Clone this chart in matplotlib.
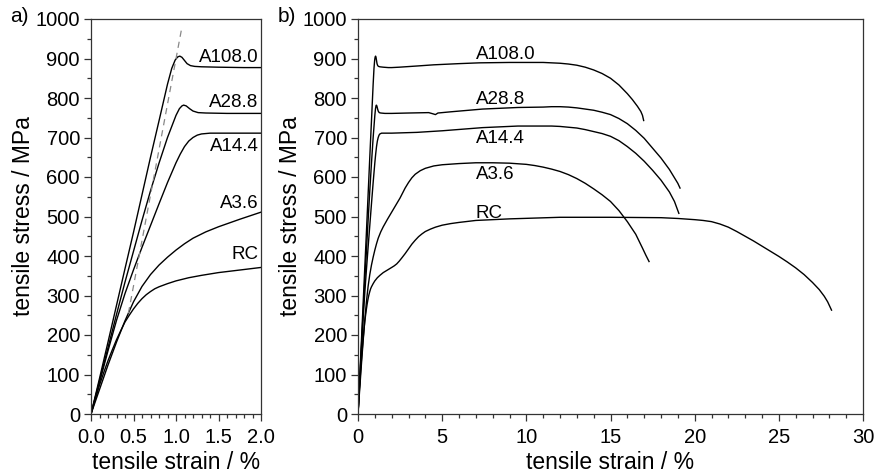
import matplotlib
matplotlib.use("Agg")
import matplotlib.pyplot as plt
from matplotlib.ticker import MultipleLocator, FormatStrFormatter

plt.rcParams['font.family'] = ['Liberation Sans', 'DejaVu Sans']

# ---- data (tensile strain in %, tensile stress in MPa) ----
a108_strain = [0, 0.05, 0.1, 0.2, 0.3, 0.4, 0.5, 0.6, 0.7, 0.8, 0.9, 0.95, 0.99, 1.02, 1.045,
               1.07, 1.1, 1.13, 1.17, 1.22, 1.3, 1.5, 1.8, 2.0, 2.45, 3.5, 4.5, 6.0, 7.2, 9.0,
               10.5, 11.0, 11.5, 12.0, 12.5, 13.0, 13.5, 14.0, 14.5, 15.0, 15.5, 16.0, 16.3,
               16.6, 16.8, 16.9, 16.97]
a108_stress = [0, 45, 90, 182, 275, 368, 460, 555, 650, 742, 835, 875, 896, 904, 906,
               903, 895, 887, 882, 880, 879, 878, 877, 877, 878, 881, 884, 887, 889, 890,
               890, 890, 889, 888, 886, 883, 878, 871, 862, 850, 833, 811, 796,
               779, 766, 756, 743]

a288_strain = [0, 0.1, 0.2, 0.3, 0.4, 0.5, 0.6, 0.7, 0.8, 0.9, 0.95, 1.0, 1.04, 1.07, 1.09,
               1.12, 1.16, 1.2, 1.26, 1.35, 1.6, 2.0, 3.0, 4.2, 4.45, 4.6, 4.75, 5.5, 7.4,
               9.5, 11.0, 11.5, 12.0, 12.5, 13.0, 13.5, 14.0, 14.5, 15.0, 15.5, 16.0, 16.5,
               17.0, 17.5, 18.0, 18.5, 18.8, 19.0, 19.13]
a288_stress = [0, 84, 168, 252, 334, 412, 490, 565, 635, 700, 728, 756, 773, 780, 782,
               780, 773, 767, 763, 762, 761, 761, 762, 763, 760, 758, 762, 765, 772,
               776, 777, 778, 778, 777, 775, 772, 769, 764, 758, 748, 735, 718,
               698, 673, 648, 619, 598, 584, 572]

a144_strain = [0, 0.1, 0.2, 0.3, 0.4, 0.5, 0.6, 0.7, 0.8, 0.9, 1.0, 1.05, 1.1, 1.15, 1.2,
               1.25, 1.3, 1.4, 1.6, 2.0, 3.5, 5.0, 7.4, 9.5, 11.5, 12.0, 12.5, 13.0, 13.5,
               14.0, 14.5, 15.0, 15.5, 16.0, 16.5, 17.0, 17.5, 18.0, 18.5, 18.8, 19.06]
a144_stress = [0, 80, 160, 237, 305, 365, 422, 477, 532, 586, 636, 658, 677, 691, 700,
               706, 709, 711, 711, 711, 713, 717, 725, 729, 729, 728, 726, 724, 720,
               715, 710, 703, 692, 677, 660, 640, 617, 592, 562, 538, 508]

a36_strain = [0, 0.1, 0.2, 0.3, 0.4, 0.5, 0.6, 0.7, 0.8, 0.9, 1.0, 1.1, 1.2, 1.35, 1.5,
              1.75, 2.0, 2.5, 2.8, 3.0, 3.2, 3.4, 3.7, 4.0, 4.5, 5.0, 6.0, 7.0, 8.0, 9.0,
              10.0, 10.5, 11.0, 11.5, 12.0, 12.5, 13.0, 13.5, 14.0, 14.5, 15.0, 15.5,
              16.0, 16.5, 16.9, 17.1, 17.29]
a36_stress = [0, 62, 124, 182, 236, 284, 323, 353, 377, 397, 415, 431, 445, 461, 474,
              493, 511, 547, 572, 586, 598, 607, 616, 622, 628, 631, 634, 636, 636, 635,
              632, 629, 625, 620, 614, 606, 596, 584, 570, 555, 538, 515,
              487, 455, 420, 402, 386]

rc_strain = [0, 0.05, 0.1, 0.15, 0.2, 0.25, 0.3, 0.35, 0.4, 0.45, 0.5, 0.55, 0.6, 0.65,
             0.7, 0.75, 0.8, 0.9, 1.0, 1.15, 1.3, 1.5, 1.77, 2.0, 2.15, 2.3, 2.45, 2.6,
             2.8, 3.0, 3.2, 3.4, 3.6, 3.8, 4.0, 4.3, 4.6, 5.0, 5.5, 6.0, 7.0, 9.0, 12.0,
             15.0, 18.0, 19.0, 20.0, 20.5, 21.0, 21.5, 22.0, 22.5, 23.0, 23.5, 24.0,
             24.5, 25.0, 25.5, 26.0, 26.5, 27.0, 27.4, 27.7, 27.9, 28.13]
rc_stress = [0, 37, 73, 105, 135, 162, 188, 211, 233, 250, 266, 280, 292, 302,
             310, 317, 322, 330, 337, 345, 351, 358, 365, 371, 375, 380, 387, 395,
             406, 418, 430, 440, 449, 456, 462, 468, 473, 478, 482, 485, 490, 494, 498,
             498, 497, 495, 492, 490, 487, 481, 473, 462, 450, 438, 425,
             412, 399, 385, 370, 353, 333, 315, 298, 284, 263]

dash_strain = [0.44, 1.07]
dash_stress = [255.0, 980.0]

curves = [
    ("A108.0", a108_strain, a108_stress),
    ("A28.8", a288_strain, a288_stress),
    ("A14.4", a144_strain, a144_stress),
    ("A3.6", a36_strain, a36_stress),
    ("RC", rc_strain, rc_stress),
]

# label positions (left panel: right-aligned, right panel: left-aligned)
left_label_x = [1.97, 1.97, 1.97, 1.97, 1.97]
left_label_y = [890, 776, 667, 521, 392]
right_label_x = [7.0, 7.0, 7.0, 7.0, 7.0]
right_label_y = [898, 785, 687, 594, 495]

W, H = 875, 474
fig = plt.figure(figsize=(W / 100, H / 100), dpi=100)
axL = fig.add_axes([91 / W, 1 - 414 / H, 170 / W, 395 / H])
axR = fig.add_axes([358 / W, 1 - 414 / H, 505 / W, 395 / H])

for ax in (axL, axR):
    for name, xs, ys in curves:
        ax.plot(xs, ys, color='black', lw=1.0, solid_joinstyle='round')
    ax.set_ylim(0, 1000)
    ax.yaxis.set_major_locator(MultipleLocator(100))
    ax.yaxis.set_minor_locator(MultipleLocator(50))
    ax.tick_params(which='major', direction='out', length=5, width=0.9,
                   labelsize=14.5, color='#333333', pad=3)
    ax.tick_params(axis='x', which='major', pad=5)
    ax.tick_params(which='minor', direction='out', length=3, width=0.9, color='#333333')
    for s in ax.spines.values():
        s.set_linewidth(0.9)
        s.set_color('#333333')
    ax.set_ylabel('tensile stress / MPa', fontsize=16.5, labelpad=0)
    ax.set_xlabel('tensile strain / %', fontsize=16.5, labelpad=3)

axL.plot(dash_strain, dash_stress, color='#888888', lw=0.9, ls=(0, (5, 4)))
axL.set_xlim(0, 2.0)
axL.xaxis.set_major_locator(MultipleLocator(0.5))
axL.xaxis.set_minor_locator(MultipleLocator(0.1))
axL.xaxis.set_major_formatter(FormatStrFormatter('%.1f'))

axR.set_xlim(0, 30)
axR.xaxis.set_major_locator(MultipleLocator(5))
axR.xaxis.set_minor_locator(MultipleLocator(1))

for (name, _, _), lx, ly in zip(curves, left_label_x, left_label_y):
    axL.text(lx, ly, name, fontsize=13.5, ha='right', va='baseline')
for (name, _, _), rx, ry in zip(curves, right_label_x, right_label_y):
    axR.text(rx, ry, name, fontsize=13.5, ha='left', va='baseline')

fig.text(10 / W, 1 - 17 / H, 'a)', fontsize=15, ha='left', va='center')
fig.text(278 / W, 1 - 17 / H, 'b)', fontsize=15, ha='left', va='center')

fig.savefig('out.png', dpi=100)
